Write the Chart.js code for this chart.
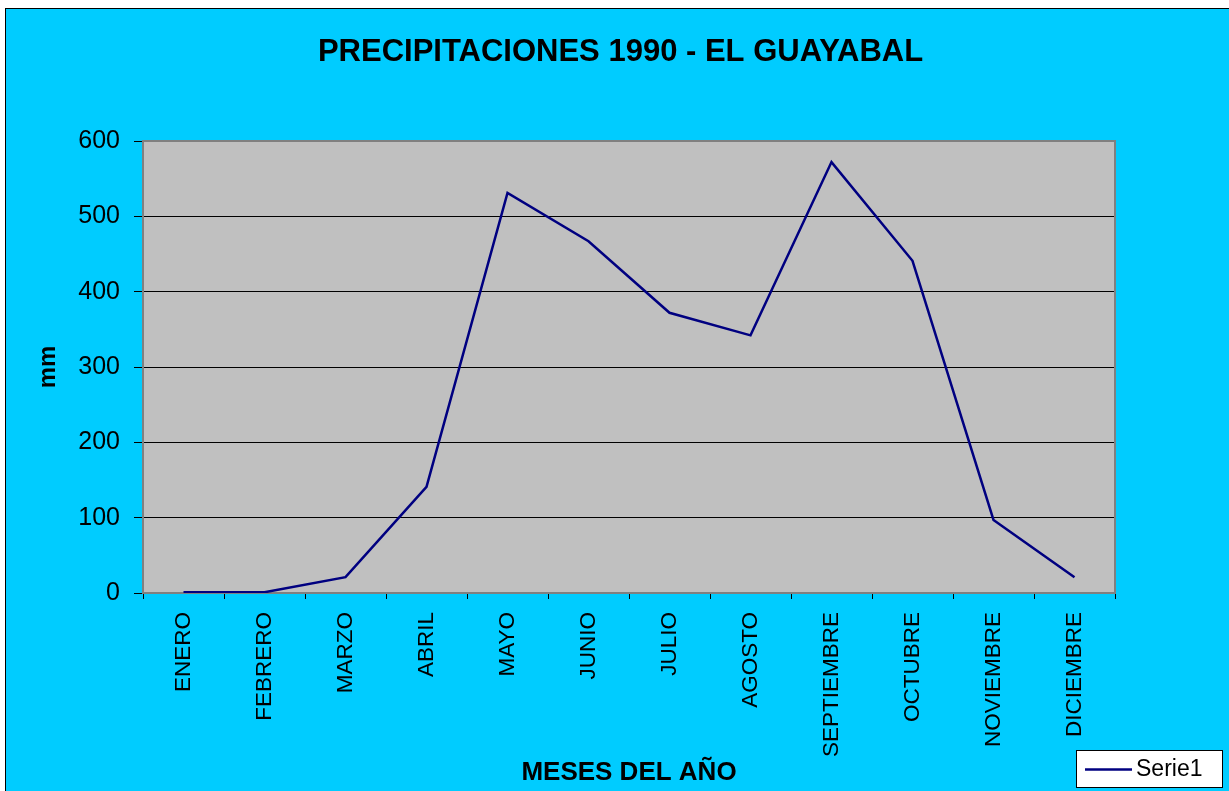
<!DOCTYPE html>
<html>
<head>
<meta charset="utf-8">
<script src="https://cdn.jsdelivr.net/npm/chart.js@4.4.0/dist/chart.umd.min.js"></script>
<style>
	body { margin: 0; background: #fff; }
	#wrap {
		position: absolute; left: 5px; top: 8px;
		width: 1223px; height: 782px;
		border-left: 1px solid #000; border-top: 1px solid #000;
		background: #00CCFF;
	}
	canvas { display: block; }
</style>
</head>
<body>
<div id="wrap"><canvas id="lluviaChart" width="1223" height="782"></canvas></div>
<script>
const titulo = 'PRECIPITACIONES 1990 - EL GUAYABAL';
const meses = ['ENERO', 'FEBRERO', 'MARZO', 'ABRIL', 'MAYO', 'JUNIO', 'JULIO', 'AGOSTO', 'SEPTIEMBRE', 'OCTUBRE', 'NOVIEMBRE', 'DICIEMBRE'];
const precipitacion = [1, 1, 21, 141, 531, 467, 372, 342, 572, 441, 97, 21];
const yTicks = [0, 100, 200, 300, 400, 500, 600];

const fuente = '"Liberation Sans", Arial, sans-serif';

// fondo gris del area de trazado y su marco
const plotArea = {
	id: 'plotArea',
	beforeDraw(chart) {
		const { ctx, chartArea: a } = chart;
		ctx.save();
		ctx.fillStyle = '#C0C0C0';
		ctx.fillRect(a.left, a.top, a.right - a.left, a.bottom - a.top);
		ctx.restore();
	},
	beforeDatasetsDraw(chart) {
		const { ctx, chartArea: a } = chart;
		ctx.save();
		ctx.strokeStyle = '#808080';
		ctx.lineWidth = 2;
		ctx.strokeRect(a.left, a.top, a.right - a.left, a.bottom - a.top);
		ctx.restore();
	}
};

// titulo centrado sobre todo el grafico
const tituloPlugin = {
	id: 'tituloPlugin',
	afterDraw(chart) {
		const ctx = chart.ctx;
		ctx.save();
		ctx.fillStyle = '#000';
		ctx.font = 'bold 31px ' + fuente;
		ctx.textAlign = 'center';
		ctx.textBaseline = 'middle';
		ctx.fillText(titulo, chart.width / 2 + 3, 43);
		ctx.restore();
	}
};

// leyenda en la esquina inferior derecha
const leyenda = {
	id: 'leyenda',
	afterDraw(chart) {
		const ctx = chart.ctx;
		const ds = chart.data.datasets[0];
		const x = 1070, y = 741, w = 146, h = 37;
		ctx.save();
		ctx.fillStyle = '#fff';
		ctx.fillRect(x, y, w, h);
		ctx.strokeStyle = '#000';
		ctx.lineWidth = 1;
		ctx.strokeRect(x + 0.5, y + 0.5, w, h);
		ctx.strokeStyle = ds.borderColor;
		ctx.lineWidth = 2.5;
		ctx.beginPath();
		ctx.moveTo(x + 9, y + h / 2 + 1);
		ctx.lineTo(x + 56, y + h / 2 + 1);
		ctx.stroke();
		ctx.fillStyle = '#000';
		ctx.font = '23px ' + fuente;
		ctx.textBaseline = 'middle';
		ctx.fillText(ds.label, x + 60, y + h / 2 + 1);
		ctx.restore();
	}
};

const ctx = document.getElementById('lluviaChart').getContext('2d');

const chart = new Chart(ctx, {
	type: 'line',
	data: {
		labels: meses,
		datasets: [{
			label: 'Serie1',
			data: precipitacion,
			borderColor: '#000080',
			borderWidth: 2.5,
			pointRadius: 0,
			tension: 0,
			fill: false
		}]
	},
	options: {
		responsive: false,
		animation: false,
		layout: { padding: { left: 0, right: 114, top: 132, bottom: 0 } },
		plugins: {
			legend: { display: false },
			tooltip: { enabled: false },
			title: { display: false }
		},
		scales: {
			x: {
				offset: true,
				grid: { offset: true, drawOnChartArea: false, drawTicks: true, tickLength: 6, color: '#000' },
				border: { display: false },
				ticks: {
					autoSkip: false, maxRotation: 90, minRotation: 90, padding: 13,
					color: '#000', font: { family: fuente, size: 22.5 }
				},
				title: {
					display: true, text: 'MESES DEL AÑO', color: '#000',
					font: { family: fuente, size: 26, weight: 'bold' },
					padding: { top: 0, bottom: 3 }
				},
				afterFit(scale) { scale.height = 198; }
			},
			y: {
				min: 0, max: 600,
				afterBuildTicks(scale) { scale.ticks = yTicks.map(v => ({ value: v })); },
				grid: { color: '#000', lineWidth: 1, tickLength: 9 },
				border: { display: false },
				ticks: {
					padding: 14, color: '#000', font: { family: fuente, size: 25 }
				},
				title: {
					display: true, text: 'mm', color: '#000',
					font: { family: fuente, size: 24, weight: 'bold' },
					padding: { top: 28, bottom: 0 }
				},
				afterFit(scale) { scale.width = 137; }
			}
		}
	},
	plugins: [plotArea, tituloPlugin, leyenda]
});
</script>
</body>
</html>
